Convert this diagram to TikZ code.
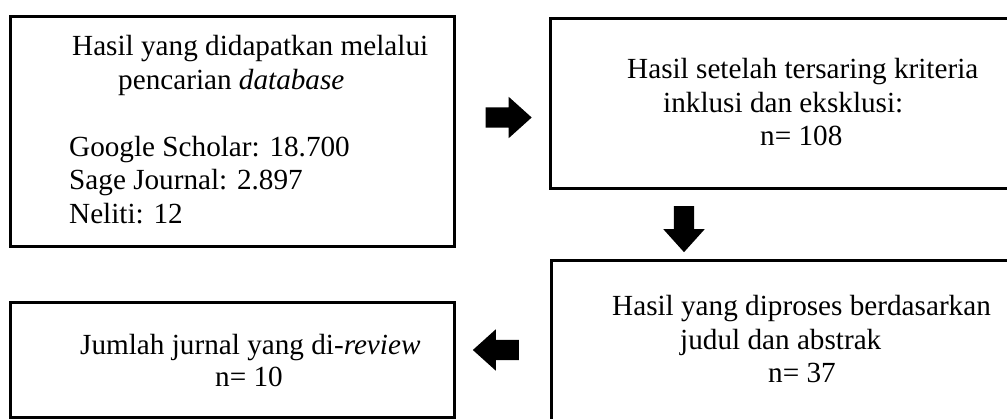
\documentclass[tikz,border=0pt]{standalone}
\usepackage{fontspec}
\setmainfont{Liberation Serif}
\usepackage{tikz}
\usetikzlibrary{shapes,arrows,positioning}

\begin{document}
\begin{tikzpicture}[x=1pt,y=-1pt]
	\tikzstyle{Box}		= [draw, line width=2.6pt, rectangle, anchor=north west, inner sep=0pt]
	\tikzstyle{Txt}		= [anchor=base west, inner sep=0pt, font=\fontsize{29.2}{33.6}\selectfont]
	\tikzstyle{BlockArrow}	= [single arrow, fill=black, inner xsep=0pt, inner ysep=10pt, minimum height=46pt, single arrow head extend=10.5pt, single arrow tip angle=84]

	\useasboundingbox (0,0) rectangle (1007,419);
	\clip (0,0) rectangle (1007,419);

	% the four boxes
	\node (search) at (9,15) [Box, minimum width=444pt, minimum height=230pt] {};
	\node (filter) at (549,17) [Box, minimum width=490pt, minimum height=170pt] {};
	\node (screen) at (550,259) [Box, minimum width=490pt, minimum height=190pt] {};
	\node (review) at (9,301) [Box, minimum width=444pt, minimum height=115pt] {};

	% lines of text
	\foreach \x/\y/\t [count=\i] in {72/56/Hasil yang didapatkan melalui, 118/90/pencarian \textit{database}, 69/157/Google Scholar: 18.700, 69/190/Sage Journal: 2.897, 69/224/Neliti: 12, 627/79/Hasil setelah tersaring kriteria, 663/113/inklusi dan eksklusi:, 760/146/n= 108, 612/316/Hasil yang diproses berdasarkan, 680/350/judul dan abstrak, 768/383/n= 37, 80/355/Jumlah jurnal yang di-\textit{review}, 215/387/n= 10}
		\node (t\i) at (\x,\y) [Txt] {\t};

	% block arrows between the boxes
	\node (arrR) at (503,117.5) [BlockArrow] {};
	\node (arrD) at (684,223.5) [BlockArrow, shape border rotate=270, inner xsep=10pt, inner ysep=0pt] {};
	\node (arrL) at (501.5,350) [BlockArrow, shape border rotate=180] {};
\end{tikzpicture}
\end{document}
